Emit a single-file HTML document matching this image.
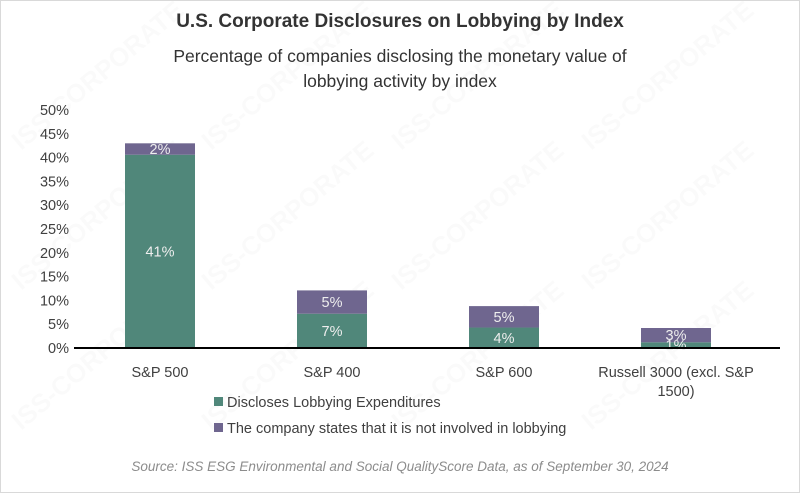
<!DOCTYPE html>
<html><head><meta charset="utf-8"><style>
html,body{margin:0;padding:0;background:#fff;overflow:hidden;width:800px;height:493px;}
#wrap{position:relative;width:798px;height:491px;border:1px solid #d9d9d9;font-family:"Liberation Sans",sans-serif;overflow:hidden;}
.t{position:absolute;left:0;width:798px;text-align:center;color:#222;}
svg{overflow:hidden;}
</style></head><body>
<div id="wrap">
<svg id="chart" width="798" height="491" style="position:absolute;left:0;top:0"></svg>
<div class="t" style="top:10px;font-size:19px;font-weight:bold;color:#333">U.S. Corporate Disclosures on Lobbying by Index</div>
<div class="t" style="top:43px;font-size:17.5px;line-height:25px;color:#333">Percentage of companies disclosing the monetary value of<br>lobbying activity by index</div>
<div class="t" style="top:458px;font-size:13.5px;font-style:italic;color:#8c8c8c">Source: ISS ESG Environmental and Social QualityScore Data, as of September 30, 2024</div>
</div>
<script>
const categories = ["S&P 500","S&P 400","S&P 600","Russell 3000 (excl. S&P|1500)"];
const disclosesValues = [40.6, 7.2, 4.3, 1.2];
const notInvolvedValues = [2.4, 4.9, 4.5, 3.0];
const disclosesLabels = ["41%","7%","4%","1%"];
const notInvolvedLabels = ["2%","5%","5%","3%"];
const yTicks = [0,5,10,15,20,25,30,35,40,45,50];
const seriesNames = ["Discloses Lobbying Expenditures","The company states that it is not involved in lobbying"];

const NS="http://www.w3.org/2000/svg";
const svg=document.getElementById('chart');
const x0=73,x1=761,yBase=347,yTop=109;
const y=v=>yBase-(v/50)*(yBase-yTop);
const band=(x1-x0)/categories.length;
const xc=i=>x0+band*(i+0.5);
const bw=70;
const GREEN="#50877a",PURPLE="#6f668f";
function mk(tag,attrs,txt){const e=document.createElementNS(NS,tag);for(const k in attrs)e.setAttribute(k,attrs[k]);if(txt!==undefined)e.textContent=txt;svg.appendChild(e);return e;}
for(let r=0;r<3;r++)for(let c=0;c<4;c++){
 const wx=c*190+20,wy=r*140+150;
 const w=mk('text',{x:wx,y:wy,'font-size':26,fill:'#000','fill-opacity':0.02,'font-weight':'bold',transform:`rotate(-40 ${wx} ${wy})`},'ISS-CORPORATE');
 
 
}
yTicks.forEach(t=>{
 const e=mk('text',{x:68,y:y(t)+5,'text-anchor':'end','font-size':14.5,fill:'#404040'},t+'%');
 
 
});
categories.forEach((c,i)=>{
 const g1=disclosesValues[i],p1=notInvolvedValues[i];
 const r1=mk('rect',{x:xc(i)-bw/2,y:y(g1),width:bw,height:y(0)-y(g1),fill:GREEN});
 
 
 const r2=mk('rect',{x:xc(i)-bw/2,y:y(g1+p1),width:bw,height:y(g1)-y(g1+p1),fill:PURPLE});
 
 
 const l1=mk('text',{x:xc(i),y:(y(g1)+y(0))/2+5,'text-anchor':'middle','font-size':14.5,fill:'#eee'},disclosesLabels[i]);
 
 
 const l2=mk('text',{x:xc(i),y:(y(g1)+y(g1+p1))/2+5,'text-anchor':'middle','font-size':14.5,fill:'#eee'},notInvolvedLabels[i]);
 
 
 c.split('|').forEach((ln,k)=>{
  const t=mk('text',{x:xc(i),y:376+k*19,'text-anchor':'middle','font-size':14.5,fill:'#404040'},ln);
  
  
 });
});
const ax=mk('line',{x1:x0,x2:x1+18,y1:yBase,y2:yBase,stroke:'#000','stroke-width':2});


seriesNames.forEach((n,k)=>{
 const r=mk('rect',{x:213,y:396+k*26,width:9,height:9,fill:k?PURPLE:GREEN});
 
 
 const t=mk('text',{x:226,y:406+k*26,'font-size':14.5,fill:'#404040'},n);
 
 
});
</script>
</body></html>
